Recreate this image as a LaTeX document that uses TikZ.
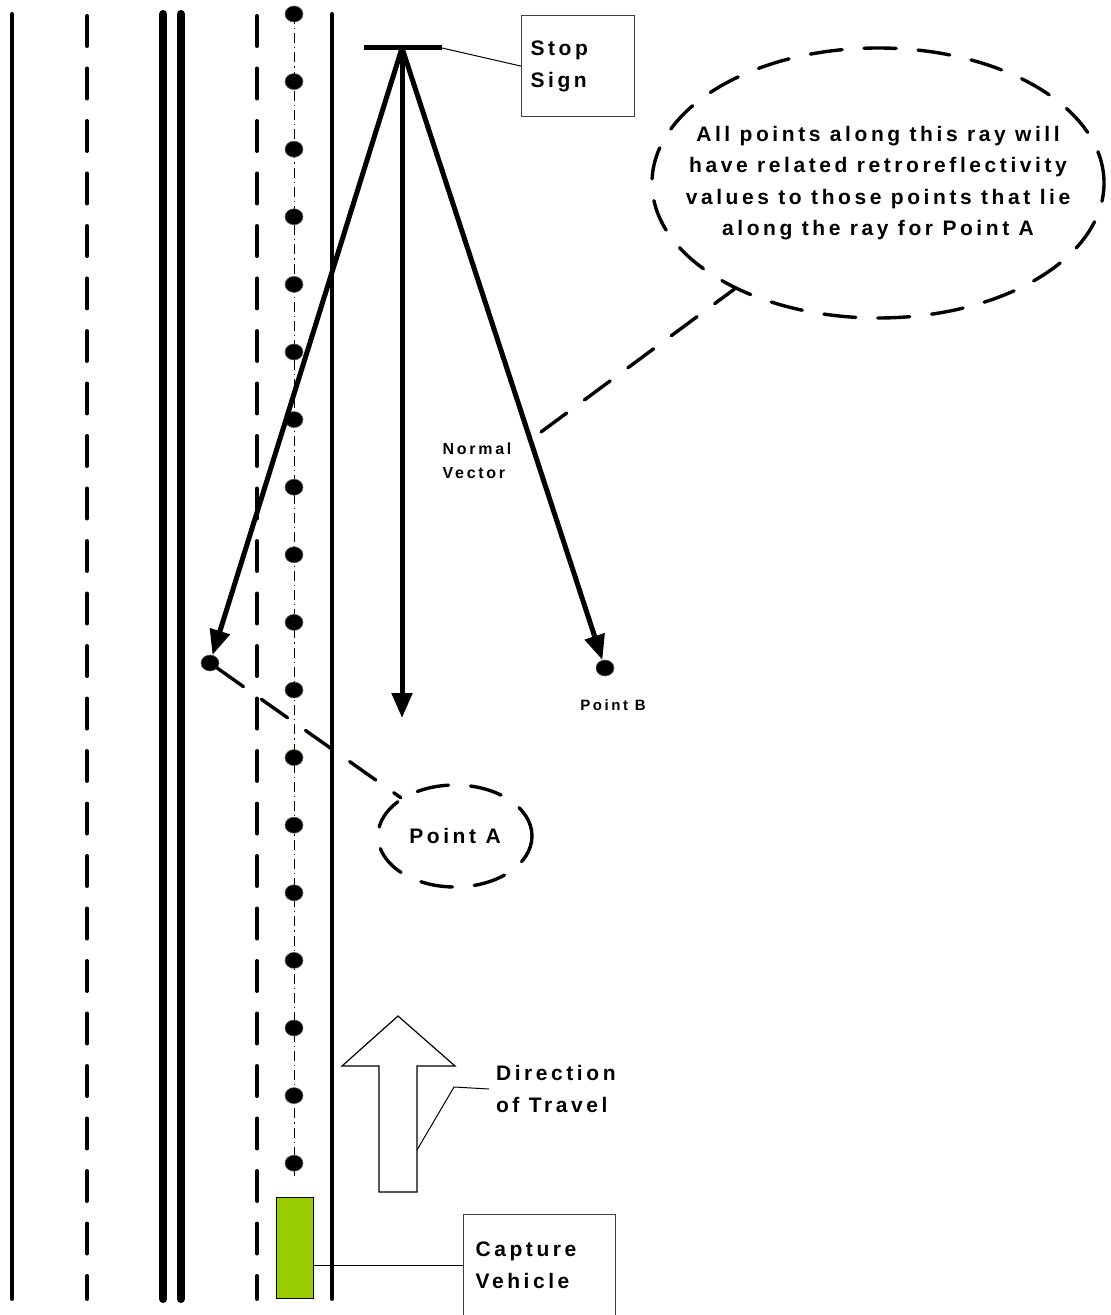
\documentclass[tikz,border=0pt]{standalone}
\usepackage{fontspec}
\usepackage{tikz}
\usetikzlibrary{arrows.meta,shapes.geometric,positioning}
\newfontfamily\lblfont[LetterSpace=17]{Liberation Sans}
\definecolor{vehgreen}{RGB}{153,204,0}
\tikzstyle{dot} = [ellipse, fill=black, draw=black!70!yellow, line width=0.3pt, minimum width=9pt, minimum height=8pt, inner sep=0pt]
\tikzstyle{road} = [line width=2pt, line cap=round]
\tikzstyle{curb} = [line width=4pt, line cap=round]
\tikzstyle{lane} = [line width=2pt, line cap=round, dash pattern=on 15pt off 11.25pt]
\tikzstyle{centre} = [line width=0.5pt, dash pattern=on 5pt off 2pt on 0.6pt off 2pt]
\tikzstyle{ray} = [line width=2.5pt, -{Triangle[length=12.5pt,width=10pt]}]
\tikzstyle{callout} = [line width=1.7pt, line cap=round, dash pattern=on 16pt off 11pt]
\tikzstyle{leader} = [line width=0.5pt]
\tikzstyle{lbl} = [font=\lblfont\bfseries\fontsize{10.5}{16}\selectfont, align=left]
\tikzstyle{lblsm} = [font=\lblfont\bfseries\fontsize{7.5}{12}\selectfont, align=left]
\tikzstyle{tag} = [lbl, draw=black!75, line width=0.6pt, anchor=north west]

\begin{document}
\begin{tikzpicture}[x=0.5pt,y=-0.5pt]
\useasboundingbox (0,0) rectangle (1111,1315);
% road markings
\foreach \x in {12,332} \draw[road] (\x,14) -- (\x,1299);
\foreach \x in {163,181} \draw[curb] (\x,14) -- (\x,1299);
\foreach \x in {87,257} \draw[lane] (\x,16) -- (\x,1299);
\draw[centre] (294,14) -- (294,1180);
\foreach \i in {0,...,17}
  \node[dot] (c\i) at (294,{14+67.6*\i}) {};

% stop sign and rays
\coordinate (signL) at (364,48);
\coordinate (signR) at (442,48);
\coordinate (sign) at (402,48);
\draw[line width=2.5pt] (signL) -- (signR);
\node[tag, minimum width=56.5pt, minimum height=50.5pt, inner xsep=4.5pt, text width=47.5pt] (stopbox) at (521,15) {Stop\\Sign};
\draw[leader] (signR) -- (stopbox.west);

\node[dot] (ptA) at (210,663) {};
\node[dot] (ptB) at (605,668) {};
\coordinate (nv) at (402,718);
\draw[ray] (sign) -- (ptA);
\draw[ray] (sign) -- (nv);
\draw[ray] (sign) -- (ptB);
\node[lblsm, font=\lblfont\bfseries\fontsize{8}{12}\selectfont] (nvlbl) at (477,461) {Normal\\Vector};
\node[lblsm] (lblB) at (613,705) {Point B};

% callouts
\node[lbl, draw, callout, ellipse, minimum width=77pt, minimum height=51pt, inner sep=0pt] (lblA) at (455,836) {Point A};
\draw[callout] (ptA) -- (lblA);
\node[draw, callout, ellipse, minimum width=226pt, minimum height=135pt] (rayshape) at (878,183) {};
\node[lbl, align=center, font=\lblfont\bfseries\fontsize{10.5}{15.75}\selectfont] (note) at (rayshape.center) {All points along this ray will\\have related retroreflectivity\\values to those points that lie\\along the ray for Point A};
\coordinate (rayend) at (541,432);
\draw[callout] (rayend) -- (rayshape);

% direction of travel
\draw[line width=0.6pt] (398,1016) -- (455,1066) -- (417,1066) -- (417,1192) -- (379,1192) -- (379,1066) -- (342,1066) -- cycle;
\coordinate (dirT) at (417,1150);
\node[lbl, anchor=west] (dirlbl) at (489,1089) {Direction\\of Travel};
\draw[leader] (dirT) -- (454,1087) -- (dirlbl.west);

% capture vehicle
\node[draw, fill=vehgreen, line width=0.5pt, minimum width=18.5pt, minimum height=50.5pt, inner sep=0pt] (veh) at (294.5,1247.5) {};
\node[tag, minimum width=76pt, minimum height=50.5pt, inner xsep=6pt, text width=64pt] (capbox) at (463,1214) {Capture\\Vehicle};
\draw[leader] (veh.east |- capbox.west) -- (capbox.west);
\end{tikzpicture}
\end{document}
